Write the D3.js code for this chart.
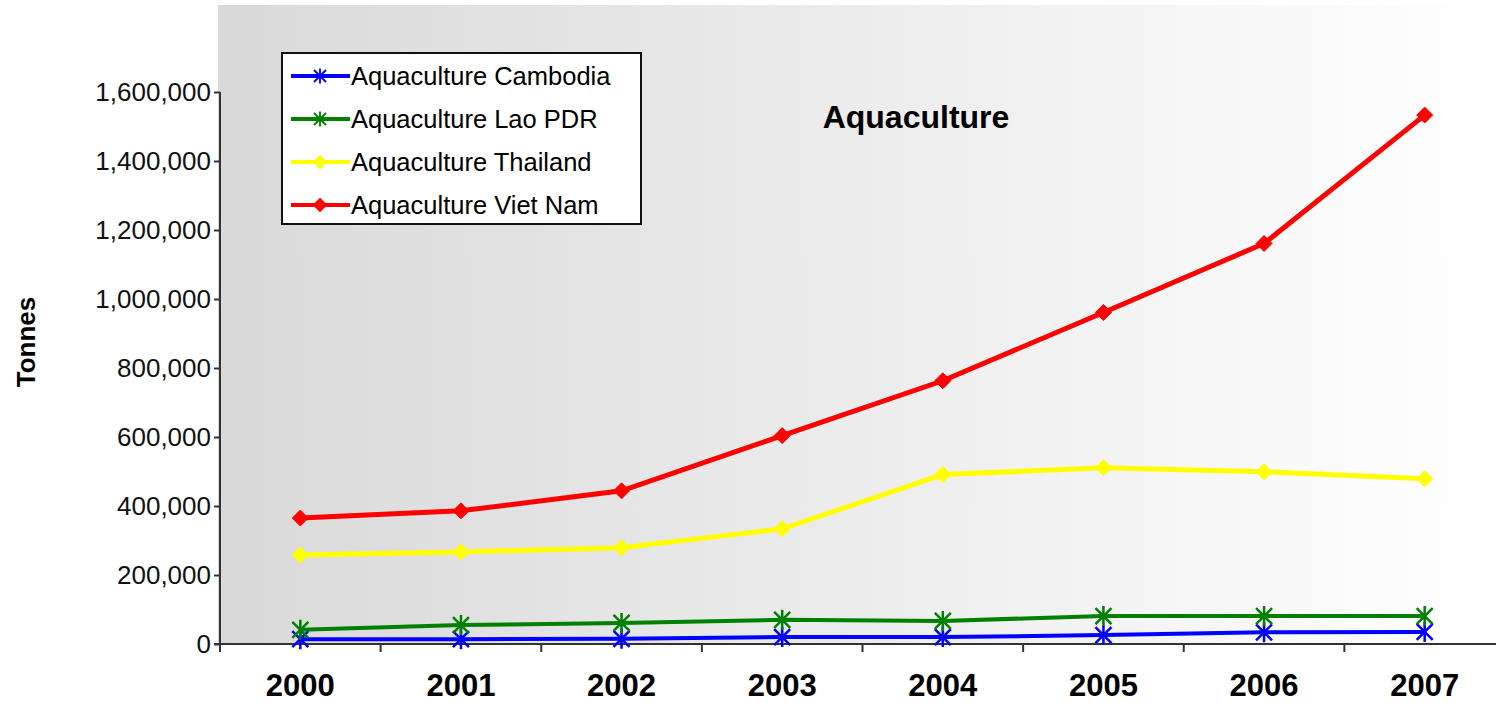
<!DOCTYPE html>
<html>
<head>
<meta charset="utf-8">
<script src="https://cdn.jsdelivr.net/npm/d3@7"></script>
<style>
  body { margin: 0; background: #fff; }
  svg text { font-family: "Liberation Sans", Arial, sans-serif; }
</style>
</head>
<body>
<svg id="chart"></svg>
<script>
// Data
const years = ["2000", "2001", "2002", "2003", "2004", "2005", "2006", "2007"];
const cambodia = [14000, 14000, 15000, 20000, 20000, 26000, 34000, 35000];
const laoPDR = [41000, 55000, 61000, 70000, 67000, 81000, 81000, 81000];
const thailand = [258000, 267000, 279000, 334000, 491000, 511000, 499000, 479000];
const vietNam = [365000, 386000, 444000, 604000, 763000, 961000, 1161000, 1533000];
const yTicks = [0, 200000, 400000, 600000, 800000, 1000000, 1200000, 1400000, 1600000];

const series = [
  { name: "Aquaculture Cambodia", values: cambodia, color: "#0000ff", marker: "star" },
  { name: "Aquaculture Lao PDR", values: laoPDR, color: "#008000", marker: "star" },
  { name: "Aquaculture Thailand", values: thailand, color: "#ffff00", marker: "diamond" },
  { name: "Aquaculture Viet Nam", values: vietNam, color: "#ff0000", marker: "diamond" },
];

const W = 1496, H = 703;
const plot = { left: 220, right: 1505, top: 5, bottom: 644 };

const svg = d3.select("#chart").attr("width", W).attr("height", H);

// Background gradient
const defs = svg.append("defs");
const grad = defs.append("linearGradient").attr("id", "bg")
  .attr("x1", "0%").attr("x2", "100%").attr("y1", "0%").attr("y2", "0%");
grad.append("stop").attr("offset", "0%").attr("stop-color", "#d9d9d9");
grad.append("stop").attr("offset", "100%").attr("stop-color", "#ffffff");

svg.append("rect")
  .attr("x", 218).attr("y", plot.top)
  .attr("width", W - 218).attr("height", plot.bottom - plot.top)
  .attr("fill", "url(#bg)");

// Scales
const x = d3.scaleBand().domain(years).range([plot.left, plot.right]);
const y = d3.scaleLinear().domain([0, 1600000]).range([plot.bottom, 92]);

// Y axis
const yAxis = svg.append("g")
  .attr("transform", `translate(${plot.left},0)`)
  .call(d3.axisLeft(y).tickValues(yTicks).tickFormat(d3.format(",")).tickSize(6).tickPadding(3));
yAxis.select(".domain").attr("stroke", "#333").attr("stroke-width", 2)
  .attr("d", `M0,${y(1600000)}V${plot.bottom + 7}`);
yAxis.selectAll(".tick line").attr("stroke", "#333").attr("stroke-width", 2);
yAxis.selectAll(".tick text").attr("font-size", 26).attr("fill", "#111");

// X axis: tick marks between categories
const xAxis = svg.append("g").attr("transform", `translate(0,${plot.bottom})`);
xAxis.append("line")
  .attr("x1", plot.left - 6).attr("x2", W)
  .attr("stroke", "#333").attr("stroke-width", 2);
xAxis.selectAll(".xtick")
  .data(years)
  .join("line")
  .attr("x1", d => x(d)).attr("x2", d => x(d))
  .attr("y1", 0).attr("y2", 8)
  .attr("stroke", "#333").attr("stroke-width", 2);
xAxis.selectAll(".xlabel")
  .data(years)
  .join("text")
  .attr("x", d => x(d) + x.bandwidth() / 2)
  .attr("y", 52)
  .attr("text-anchor", "middle")
  .attr("font-size", 31).attr("font-weight", "bold")
  .text(d => d);

// Axis title
svg.append("text")
  .attr("transform", `translate(35,342) rotate(-90)`)
  .attr("text-anchor", "middle")
  .attr("font-size", 26).attr("font-weight", "bold")
  .text("Tonnes");

// Chart title
svg.append("text")
  .attr("x", 916).attr("y", 128)
  .attr("text-anchor", "middle")
  .attr("font-size", 32).attr("font-weight", "bold")
  .text("Aquaculture");

// Markers
function markerPath(type) {
  if (type === "star") {
    const h = 8, v = 10;
    return `M${-h},${-h}L${h},${h}M${-h},${h}L${h},${-h}M0,${-v}L0,${v}`;
  }
  return "M0,-8L8,0L0,8L-8,0Z";
}

const line = d3.line()
  .x((d, i) => x(years[i]) + x.bandwidth() / 2)
  .y(d => y(d));

series.forEach(s => {
  const g = svg.append("g");
  g.append("path")
    .datum(s.values)
    .attr("d", line)
    .attr("fill", "none")
    .attr("stroke", s.color)
    .attr("stroke-width", s.marker === "diamond" ? 5 : 4);
  g.selectAll("path.m")
    .data(s.values)
    .join("path")
    .attr("class", "m")
    .attr("transform", (d, i) => `translate(${x(years[i]) + x.bandwidth() / 2},${y(d)})`)
    .attr("d", markerPath(s.marker))
    .attr("fill", s.color)
    .attr("stroke", s.color)
    .attr("stroke-width", s.marker === "star" ? 2.5 : 1);
});

// Legend
const legend = svg.append("g");
legend.append("rect")
  .attr("x", 282).attr("y", 53).attr("width", 359).attr("height", 171)
  .attr("fill", "#fff").attr("stroke", "#111").attr("stroke-width", 2);
const rowY = d3.scalePoint().domain(series.map(s => s.name)).range([76, 205]);
series.forEach(s => {
  const ly = rowY(s.name);
  legend.append("line")
    .attr("x1", 291).attr("x2", 350).attr("y1", ly).attr("y2", ly)
    .attr("stroke", s.color).attr("stroke-width", 4);
  legend.append("path")
    .attr("transform", `translate(320,${ly}) scale(0.75)`)
    .attr("d", markerPath(s.marker))
    .attr("fill", s.color).attr("stroke", s.color).attr("stroke-width", 2.5);
  legend.append("text")
    .attr("x", 351).attr("y", ly + 9)
    .attr("font-size", 25.5)
    .text(s.name);
});
</script>
</body>
</html>
